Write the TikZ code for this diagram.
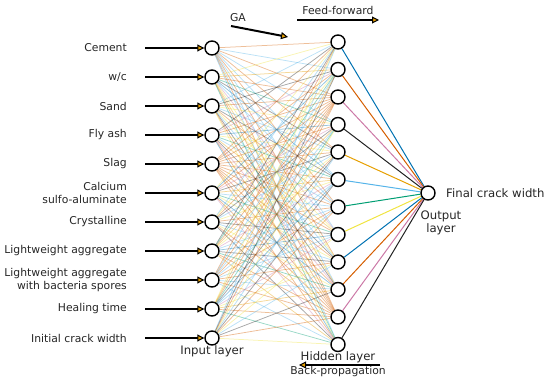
\documentclass[tikz,border=0pt]{standalone}
\usepackage{fontspec}
\setmainfont{DejaVu Sans}
\usetikzlibrary{arrows.meta,backgrounds}
\definecolor{pc0}{HTML}{0072B2}
\definecolor{pc1}{HTML}{D55E00}
\definecolor{pc2}{HTML}{CC79A7}
\definecolor{pc3}{HTML}{222222}
\definecolor{pc4}{HTML}{E69F00}
\definecolor{pc5}{HTML}{56B4E9}
\definecolor{pc6}{HTML}{009E73}
\definecolor{pc7}{HTML}{F0E442}
\definecolor{headfill}{HTML}{E69F00}
\tikzset{
  neuron/.style={circle,draw=black,line width=1.4pt,fill=white,minimum size=14pt,inner sep=0pt},
  inlabel/.style={font=\fontsize{10.8}{12.5}\selectfont,align=right,anchor=east,text=black!85,inner sep=0pt},
  laylabel/.style={font=\fontsize{11.7}{12.5}\selectfont,text=black!85,inner sep=0pt},
  smalllabel/.style={font=\fontsize{10.8}{12}\selectfont,text=black!85,inner sep=0pt},
  bigarrow/.style={line width=2pt,-{Triangle[length=7pt,width=7pt,fill=headfill,line width=1pt]}},
  weak/.style={line width=0.75pt,opacity=0.4},
  strong/.style={line width=1pt},
}
\begin{document}
\begin{tikzpicture}[x=1pt,y=-1pt]
\useasboundingbox (0,0) rectangle (550,382);
% input neurons
\foreach \i in {1,...,11}{
  \node[neuron] (i\i) at (212,{48+29*(\i-1)}) {};
  \coordinate (s\i) at (145,{48+29*(\i-1)});
}
% hidden neurons
\foreach \j in {1,...,12}{
  \node[neuron] (h\j) at (338,{42+27.5*(\j-1)}) {};
}
\node[neuron] (o) at (428,193) {};
% input arrows
\foreach \i in {1,...,11}{
  \draw[bigarrow] (s\i) -- (i\i);
}
% labels
\node[inlabel] at (127,48) {Cement};
\node[inlabel] at (127,77) {w/c};
\node[inlabel] at (127,106) {Sand};
\node[inlabel] at (127,135) {Fly ash};
\node[inlabel] at (127,164) {Slag};
\node[inlabel] at (127,193) {Calcium\\sulfo-aluminate};
\node[inlabel] at (127,222) {Crystalline};
\node[inlabel] at (127,251) {Lightweight aggregate};
\node[inlabel] at (127,280) {Lightweight aggregate\\with bacteria spores};
\node[inlabel] at (127,309) {Healing time};
\node[inlabel] at (127,338) {Initial crack width};
\node[laylabel] (il) at (212,351) {Input layer};
\node[laylabel] (hl) at (338,357) {Hidden layer};
\node[laylabel,anchor=west] (fcw) at (446,193) {Final crack width};
\node[laylabel,align=center] (ol) at (441,223) {Output\\layer};
\node[smalllabel] (bp) at (338,372) {Back-propagation};
\node[smalllabel] (ff) at (338,10) {Feed-forward};
\node[smalllabel] (ga) at (238,18) {GA};
\coordinate (ffa) at (297,20); \coordinate (ffb) at (379,20);
\coordinate (gaa) at (231,26); \coordinate (gab) at (288,37);
\coordinate (bpa) at (380,365); \coordinate (bpb) at (299,365);
\draw[bigarrow] (ffa) -- (ffb);
\draw[bigarrow] (gaa) -- (gab);
\draw[bigarrow] (bpa) -- (bpb);
% connections
\begin{pgfonlayer}{background}
\foreach \i in {1,...,11}{
  \foreach \j in {1,...,12}{
    \pgfmathtruncatemacro\k{mod(\i*5+\j*3+\i*\j,8)}
    \draw[weak,color=pc\k] (i\i) -- (h\j);
  }
}
\foreach \j in {1,...,12}{
  \pgfmathtruncatemacro\k{mod(\j-1,8)}
  \draw[strong,color=pc\k] (h\j) -- (o);
}
\end{pgfonlayer}
\end{tikzpicture}
\end{document}
